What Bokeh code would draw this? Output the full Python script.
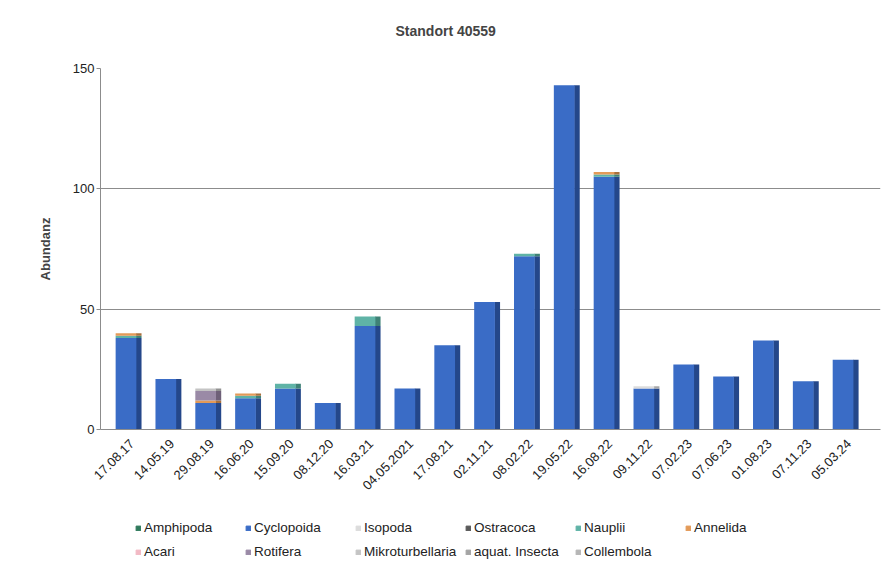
from bokeh.plotting import figure
from bokeh.models import ColumnDataSource, FixedTicker, Legend, LegendItem, Title
from bokeh.layouts import column
from bokeh.transform import dodge
from bokeh.embed import file_html
from bokeh.resources import INLINE
from math import pi

dates = ["17.08.17", "14.05.19", "29.08.19", "16.06.20", "15.09.20", "08.12.20",
         "16.03.21", "04.05.2021", "17.08.21", "02.11.21", "08.02.22", "19.05.22",
         "16.08.22", "09.11.22", "07.02.23", "07.06.23", "01.08.23", "07.11.23", "05.03.24"]

species = ["Amphipoda", "Cyclopoida", "Isopoda", "Ostracoca", "Nauplii", "Annelida",
           "Acari", "Rotifera", "Mikroturbellaria", "aquat. Insecta", "Collembola"]

amphipoda        = [0, 0, 0, 0, 0, 0, 0, 0, 0, 0, 0, 0, 0, 0, 0, 0, 0, 0, 0]
cyclopoida       = [38, 21, 11, 13, 17, 11, 43, 17, 35, 53, 72, 143, 105, 17, 27, 22, 37, 20, 29]
isopoda          = [0, 0, 0, 0, 0, 0, 0, 0, 0, 0, 0, 0, 0, 1, 0, 0, 0, 0, 0]
ostracoca        = [0, 0, 0, 0, 0, 0, 0, 0, 0, 0, 0, 0, 0, 0, 0, 0, 0, 0, 0]
nauplii          = [1, 0, 0, 1, 2, 0, 4, 0, 0, 0, 1, 0, 1, 0, 0, 0, 0, 0, 0]
annelida         = [1, 0, 1, 1, 0, 0, 0, 0, 0, 0, 0, 0, 1, 0, 0, 0, 0, 0, 0]
acari            = [0, 0, 0, 0, 0, 0, 0, 0, 0, 0, 0, 0, 0, 0, 0, 0, 0, 0, 0]
rotifera         = [0, 0, 4, 0, 0, 0, 0, 0, 0, 0, 0, 0, 0, 0, 0, 0, 0, 0, 0]
mikroturbellaria = [0, 0, 1, 0, 0, 0, 0, 0, 0, 0, 0, 0, 0, 0, 0, 0, 0, 0, 0]
aquat_insecta    = [0, 0, 0, 0, 0, 0, 0, 0, 0, 0, 0, 0, 0, 0, 0, 0, 0, 0, 0]
collembola       = [0, 0, 0, 0, 0, 0, 0, 0, 0, 0, 0, 0, 0, 0, 0, 0, 0, 0, 0]

colors = ["#2f7a5c", "#3a6cc6", "#dcdcdc", "#5a5a5a", "#5fb3a6", "#e39a58",
          "#f2b9c4", "#9a8aa6", "#c4c4c4", "#a4a4a4", "#b6b6b6"]
side_colors = ["#1f5540", "#24478a", "#a8a8a8", "#3a3a3a", "#3f8276", "#a8703c",
               "#c08a94", "#6e6078", "#929292", "#777777", "#868686"]

source = ColumnDataSource(data={
    "dates": dates,
    "Amphipoda": amphipoda, "Cyclopoida": cyclopoida, "Isopoda": isopoda,
    "Ostracoca": ostracoca, "Nauplii": nauplii, "Annelida": annelida,
    "Acari": acari, "Rotifera": rotifera, "Mikroturbellaria": mikroturbellaria,
    "aquat. Insecta": aquat_insecta, "Collembola": collembola,
})

FONT = "Liberation Sans"
W = 885

p = figure(x_range=dates, y_range=(0, 150), width=W, height=496,
           output_backend="svg", toolbar_location=None, title_location=None,
           min_border_left=100, min_border_right=5, min_border_top=68, min_border_bottom=66)

# spacer between chart title and plot area, then the title itself
p.add_layout(Title(text=" ", text_font=FONT, text_font_size="14px", standoff=12), "above")
p.add_layout(Title(text="Standort 40559", align="left", offset=295, text_font=FONT,
                   text_font_size="14px", text_font_style="bold", standoff=0), "above")

# side faces (3D look)
p.vbar_stack(species, x=dodge("dates", 0.17, range=p.x_range), width=0.14,
             color=side_colors, source=source, line_width=0)
# front faces
p.vbar_stack(species, x=dodge("dates", -0.15, range=p.x_range), width=0.52,
             color=colors, source=source, line_width=0)

p.outline_line_color = None
p.xgrid.grid_line_color = None
p.ygrid.grid_line_color = "#8c8c8c"
p.ygrid.grid_line_width = 1
p.yaxis.ticker = FixedTicker(ticks=[0, 50, 100, 150])
p.yaxis.axis_label = "Abundanz"
p.yaxis.axis_label_text_font = FONT
p.yaxis.axis_label_text_font_style = "bold"
p.yaxis.axis_label_text_font_size = "13px"
p.yaxis.axis_label_standoff = 17
p.axis.major_label_text_font = FONT
p.axis.major_label_text_font_size = "13px"
p.axis.major_label_text_color = "#222222"
p.axis.axis_line_color = "#8c8c8c"
p.axis.major_tick_line_color = "#8c8c8c"
p.axis.major_tick_in = 0
p.axis.major_tick_out = 4
p.yaxis.major_label_standoff = 2
p.axis.minor_tick_line_color = None
p.xaxis.major_label_orientation = pi / 4
p.xaxis.major_tick_line_color = None
p.xaxis.major_label_standoff = 8
p.x_range.range_padding = 0.29
p.x_range.range_padding_units = "absolute"

# legend strip below the chart
lg = figure(width=W, height=66, output_backend="svg", toolbar_location=None,
            x_range=(0, 1), y_range=(0, 1), min_border=0,
            x_axis_location=None, y_axis_location=None)
lg.grid.grid_line_color = None
lg.outline_line_color = None
hidden = ColumnDataSource(data={"x": [-5], "top": [-5]})
rs = [lg.vbar(x="x", top="top", width=0.1, color=c, source=hidden) for c in colors]
items = [LegendItem(label=s, renderers=[r]) for s, r in zip(species, rs)]
legend = Legend(items=items, ncols=6, location=(35, 1), orientation="horizontal",
                label_text_font=FONT, label_text_font_size="13.5px",
                label_text_color="#222222",
                glyph_width=6, glyph_height=6, label_standoff=3, label_width=96,
                spacing=5, padding=2, margin=0, label_height=19,
                border_line_color=None, background_fill_alpha=0)
lg.add_layout(legend, "center")

open("out.html", "w").write(file_html(column(p, lg, spacing=0), INLINE))
